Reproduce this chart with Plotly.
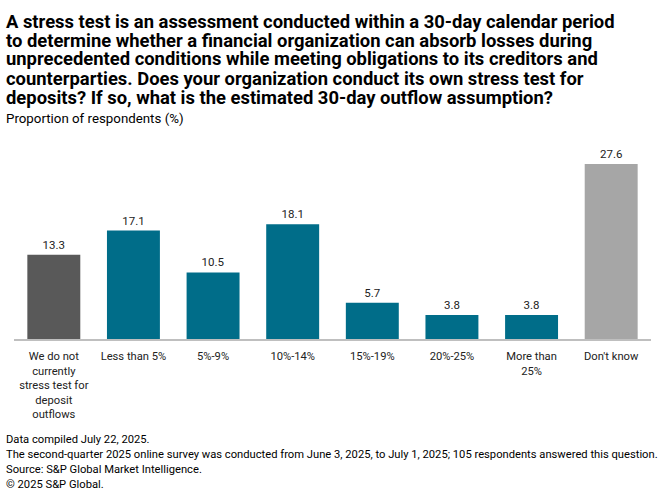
import plotly.graph_objects as go

categories = ["We do not<br>currently<br>stress test for<br>deposit<br>outflows", "Less than 5%", "5%-9%", "10%-14%",
              "15%-19%", "20%-25%", "More than<br>25%", "Don't know"]
values = [13.3, 17.1, 10.5, 18.1, 5.7, 3.8, 3.8, 27.6]
colors = ["#595959", "#006d89", "#006d89", "#006d89", "#006d89", "#006d89", "#006d89", "#a6a6a6"]

title_lines = [
    "A stress test is an assessment conducted within a 30-day calendar period",
    "to determine whether a financial organization can absorb losses during",
    "unprecedented conditions while meeting obligations to its creditors and",
    "counterparties. Does your organization conduct its own stress test for",
    "deposits? If so, what is the estimated 30-day outflow assumption?",
]
subtitle = "Proportion of respondents (%)"
footnotes = [
    "Data compiled July 22, 2025.",
    "The second-quarter 2025 online survey was conducted from June 3, 2025, to July 1, 2025; 105 respondents answered this question.",
    "Source: S&P Global Market Intelligence.",
    "© 2025 S&P Global.",
]

FONT = "Roboto"
W, H = 660, 502
L, R, T, B = 13.6, 660 - 651, 140, 502 - 339
PH = H - T - B
PW = W - L - R

def py(Y):
    return (H - B - Y) / PH

def px(X):
    return (X - L) / PW

fig = go.Figure(go.Bar(
    x=categories, y=values, marker=dict(color=colors, line=dict(width=0)),
    text=[f"{v:.1f}" for v in values], textposition="outside",
    textfont=dict(size=11.5, color="#222222", family=FONT), cliponaxis=False,
    hoverinfo="skip",
))

ann = []
title_y = [21, 40, 59, 78, 97]
for line, yy in zip(title_lines, title_y):
    ann.append(dict(text=line, x=px(4), y=py(yy), xref="paper", yref="paper",
                    xanchor="left", yanchor="middle", align="left", showarrow=False,
                    font=dict(size=18.4, color="#000000", family=FONT, weight="bold")))
ann.append(dict(text=subtitle, x=px(4), y=py(118), xref="paper", yref="paper",
                xanchor="left", yanchor="middle", align="left", showarrow=False,
                font=dict(size=13.3, color="#000000", family=FONT)))
foot_y = [439, 454, 469, 485]
for line, yy in zip(footnotes, foot_y):
    ann.append(dict(text=line, x=px(4), y=py(yy), xref="paper", yref="paper",
                    xanchor="left", yanchor="middle", align="left", showarrow=False,
                    font=dict(size=11.2, color="#000000", family=FONT)))

fig.update_layout(
    width=W, height=H, margin=dict(l=L, r=R, t=T, b=B),
    paper_bgcolor="white", plot_bgcolor="white",
    showlegend=False, bargap=0.335, annotations=ann,
    font=dict(family=FONT),
)
fig.update_xaxes(showline=True, linecolor="#bfbfbf", linewidth=1.5, ticks="", showgrid=False,
                 ticklabelstandoff=6,
                 tickfont=dict(size=11.2, color="#222222", family=FONT))
fig.update_yaxes(visible=False, range=[0, 199 / (175 / 27.6)], showgrid=False, zeroline=False)

fig.write_html("out.html", config={"displayModeBar": False},
               post_script="document.body.style.margin='0px';")
